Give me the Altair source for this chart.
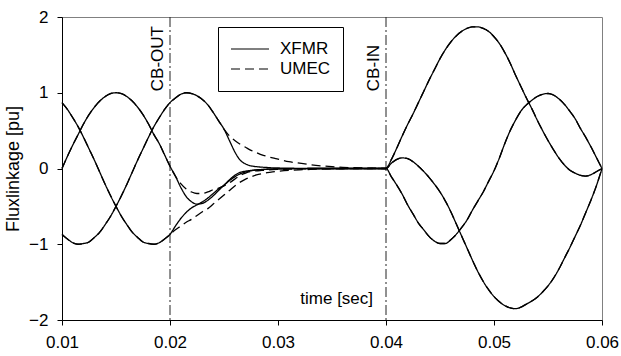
import altair as alt
import pandas as pd

FONT = "Liberation Sans"

# ---- segment 1: before CB opens (both models coincide) ----
t_seg1 = [0.0100, 0.0105, 0.0110, 0.0115, 0.0120, 0.0125, 0.0130, 0.0135, 0.0140, 0.0145,
          0.0150, 0.0155, 0.0160, 0.0165, 0.0170, 0.0175, 0.0180, 0.0185, 0.0190, 0.0195, 0.0200]
a_seg1 = [0.00, 0.16, 0.31, 0.45, 0.59, 0.71, 0.81, 0.89, 0.95, 0.99,
          1.00, 0.99, 0.95, 0.89, 0.81, 0.71, 0.59, 0.45, 0.33, 0.18, 0.03]
b_seg1 = [-0.87, -0.93, -0.98, -1.00, -0.99, -0.97, -0.91, -0.84, -0.74, -0.63,
          -0.50, -0.36, -0.21, -0.05, 0.11, 0.26, 0.41, 0.55, 0.67, 0.78, 0.87]
c_seg1 = [0.87, 0.78, 0.67, 0.55, 0.41, 0.26, 0.11, -0.05, -0.21, -0.36,
          -0.50, -0.63, -0.74, -0.84, -0.91, -0.97, -0.99, -1.00, -0.98, -0.93, -0.87]

# ---- segment 2: CB open, flux decays ----
t_seg2 = [0.0200, 0.0205, 0.0210, 0.0215, 0.0220, 0.0225, 0.0230, 0.0235, 0.0240, 0.0245,
          0.0250, 0.0255, 0.0260, 0.0265, 0.0270, 0.0275, 0.0280, 0.0285, 0.0290, 0.0295,
          0.0300, 0.0310, 0.0320, 0.0330, 0.0340, 0.0350, 0.0360, 0.0370, 0.0380, 0.0390, 0.0400]
xfmr_a_seg2 = [0.03, -0.10, -0.25, -0.37, -0.44, -0.47, -0.46, -0.42, -0.36, -0.29,
               -0.22, -0.15, -0.09, -0.05, -0.035, -0.025, -0.018, -0.013, -0.010, -0.007,
               -0.005, -0.003, -0.002, 0, 0, 0, 0, 0, 0, 0, 0]
xfmr_b_seg2 = [0.87, 0.93, 0.98, 1.00, 0.99, 0.96, 0.91, 0.84, 0.74, 0.63,
               0.52, 0.37, 0.22, 0.11, 0.06, 0.035, 0.024, 0.018, 0.013, 0.009,
               0.007, 0.004, 0.002, 0, 0, 0, 0, 0, 0, 0, 0]
xfmr_c_seg2 = [-0.87, -0.76, -0.66, -0.58, -0.52, -0.48, -0.44, -0.39, -0.33, -0.27,
               -0.22, -0.16, -0.11, -0.07, -0.045, -0.03, -0.02, -0.015, -0.010, -0.007,
               -0.005, -0.003, -0.002, 0, 0, 0, 0, 0, 0, 0, 0]
umec_a_seg2 = [0.03, -0.10, -0.20, -0.27, -0.31, -0.33, -0.33, -0.31, -0.28, -0.26,
               -0.23, -0.19, -0.14, -0.09, -0.06, -0.04, -0.03, -0.025, -0.02, -0.015,
               -0.012, -0.008, -0.005, -0.003, -0.002, -0.001, 0, 0, 0, 0, 0]
umec_b_seg2 = [0.87, 0.93, 0.98, 1.00, 0.99, 0.96, 0.91, 0.84, 0.74, 0.63,
               0.52, 0.43, 0.37, 0.32, 0.28, 0.24, 0.21, 0.18, 0.16, 0.14,
               0.125, 0.09, 0.07, 0.05, 0.035, 0.024, 0.016, 0.010, 0.006, 0.003, 0]
umec_c_seg2 = [-0.87, -0.81, -0.76, -0.71, -0.67, -0.62, -0.57, -0.53, -0.47, -0.41,
               -0.35, -0.29, -0.23, -0.18, -0.14, -0.11, -0.085, -0.068, -0.055, -0.045,
               -0.037, -0.025, -0.017, -0.012, -0.008, -0.005, -0.003, -0.002, -0.001, 0, 0]

# ---- segment 3: CB closes again (both models coincide) ----
t_seg3 = [0.0400, 0.0405, 0.0410, 0.0415, 0.0420, 0.0425, 0.0430, 0.0435, 0.0440, 0.0445,
          0.0450, 0.0455, 0.0460, 0.0465, 0.0470, 0.0475, 0.0480, 0.0485, 0.0490, 0.0495,
          0.0500, 0.0505, 0.0510, 0.0515, 0.0520, 0.0525, 0.0530, 0.0535, 0.0540, 0.0545,
          0.0550, 0.0555, 0.0560, 0.0565, 0.0570, 0.0575, 0.0580, 0.0585, 0.0590, 0.0595, 0.0600]
a_seg3 = [0.00, 0.07, 0.12, 0.14, 0.13, 0.09, 0.03, -0.04, -0.12, -0.21,
          -0.31, -0.43, -0.57, -0.73, -0.89, -1.05, -1.21, -1.36, -1.49, -1.60,
          -1.69, -1.76, -1.81, -1.84, -1.85, -1.83, -1.79, -1.75, -1.70, -1.63,
          -1.55, -1.45, -1.33, -1.19, -1.05, -0.90, -0.75, -0.58, -0.41, -0.22, 0.00]
b_seg3 = [0.00, 0.12, 0.27, 0.43, 0.58, 0.72, 0.87, 1.02, 1.17, 1.31,
          1.45, 1.57, 1.67, 1.75, 1.81, 1.85, 1.87, 1.87, 1.85, 1.81,
          1.74, 1.65, 1.53, 1.39, 1.23, 1.08, 0.93, 0.79, 0.64, 0.50,
          0.37, 0.25, 0.14, 0.05, -0.02, -0.06, -0.09, -0.10, -0.08, -0.04, 0.00]
c_seg3 = [0.00, -0.11, -0.22, -0.34, -0.48, -0.60, -0.72, -0.81, -0.90, -0.96,
          -0.99, -0.99, -0.94, -0.87, -0.78, -0.68, -0.55, -0.43, -0.31, -0.17,
          -0.03, 0.14, 0.33, 0.50, 0.64, 0.76, 0.84, 0.90, 0.95, 0.98,
          0.99, 0.97, 0.92, 0.85, 0.76, 0.66, 0.53, 0.41, 0.28, 0.14, 0.00]

models = ["XFMR", "UMEC"]
breaker_t = [0.02, 0.04]
breaker_labels = ["CB-OUT", "CB-IN"]
breaker_label_y = [1.02, 1.02]
x_ticks = [0.01, 0.02, 0.03, 0.04, 0.05, 0.06]
y_ticks = [-2, -1, 0, 1, 2]

seg2 = {
    "UMEC": {"A": umec_a_seg2, "B": umec_b_seg2, "C": umec_c_seg2},
    "XFMR": {"A": xfmr_a_seg2, "B": xfmr_b_seg2, "C": xfmr_c_seg2},
}
seg1 = {"A": a_seg1, "B": b_seg1, "C": c_seg1}
seg3 = {"A": a_seg3, "B": b_seg3, "C": c_seg3}

rows = []
for m in ["UMEC", "XFMR"]:
    for ph in ["A", "B", "C"]:
        ts = t_seg1 + t_seg2[1:] + t_seg3[1:]
        vs = seg1[ph] + seg2[m][ph][1:] + seg3[ph][1:]
        for i, (t, v) in enumerate(zip(ts, vs)):
            rows.append({"t": t, "v": v, "model": m, "series": m + ph, "i": i})
df = pd.DataFrame(rows)

xs = alt.Scale(domain=[0.01, 0.06], nice=False, zero=False)
ys = alt.Scale(domain=[-2, 2], nice=False)

lines = alt.Chart(df).mark_line(color="black", strokeWidth=1.3, interpolate="monotone").encode(
    x=alt.X("t:Q", scale=xs,
            axis=alt.Axis(values=x_ticks, format=".2f", title=None, grid=False,
                          tickSize=5, labelPadding=9, labelFontSize=17, labelFont=FONT,
                          domainColor="black", tickColor="black", labelColor="black",
                          labelFlush=False)),
    y=alt.Y("v:Q", scale=ys,
            axis=alt.Axis(values=y_ticks, format="d", title="Fluxlinkage [pu]", grid=False,
                          tickSize=5, labelPadding=9, labelFontSize=17, labelFont=FONT,
                          titleFont=FONT, titleFontSize=18, titleFontWeight="normal",
                          titleColor="black", titlePadding=6,
                          domainColor="black", tickColor="black", labelColor="black")),
    strokeDash=alt.StrokeDash(
        "model:N",
        scale=alt.Scale(domain=models, range=[[1, 0], [9, 5]]),
        legend=alt.Legend(orient="none", legendX=156, legendY=10, title=None,
                          strokeColor="black", fillColor="white", padding=12,
                          symbolType="stroke", symbolSize=1444, symbolStrokeWidth=1.2,
                          symbolStrokeColor="black", labelFontSize=17, labelFont=FONT,
                          labelColor="black", labelOffset=10, clipHeight=20, rowPadding=0)),
    detail="series:N",
    order="i:Q",
)

rules_df = pd.DataFrame({"t": breaker_t})
rules = alt.Chart(rules_df).mark_rule(color="#222222", strokeWidth=1,
                                      strokeDash=[10, 3, 2, 3]).encode(
    x=alt.X("t:Q", scale=xs))

lab_df = pd.DataFrame({"t": breaker_t, "v": breaker_label_y, "label": breaker_labels})
labels = alt.Chart(lab_df).mark_text(angle=270, align="left", baseline="bottom", dy=-3,
                                     fontSize=17, font=FONT, color="black").encode(
    x=alt.X("t:Q", scale=xs), y=alt.Y("v:Q", scale=ys), text="label:N")

time_df = pd.DataFrame({"t": [0.0388], "v": [-1.72], "label": ["time [sec]"]})
time_lab = alt.Chart(time_df).mark_text(align="right", baseline="middle", fontSize=17,
                                        font=FONT, color="black").encode(
    x=alt.X("t:Q", scale=xs), y=alt.Y("v:Q", scale=ys), text="label:N")

chart = alt.layer(rules, lines, labels, time_lab).properties(
    width=540, height=303,
    autosize=alt.AutoSizeParams(type="none"),
    padding={"left": 62, "top": 17, "right": 19, "bottom": 36},
    background="white",
).configure_view(stroke="#808080", strokeWidth=1)

chart.save("out.html", embed_options={"renderer": "svg", "actions": False})
